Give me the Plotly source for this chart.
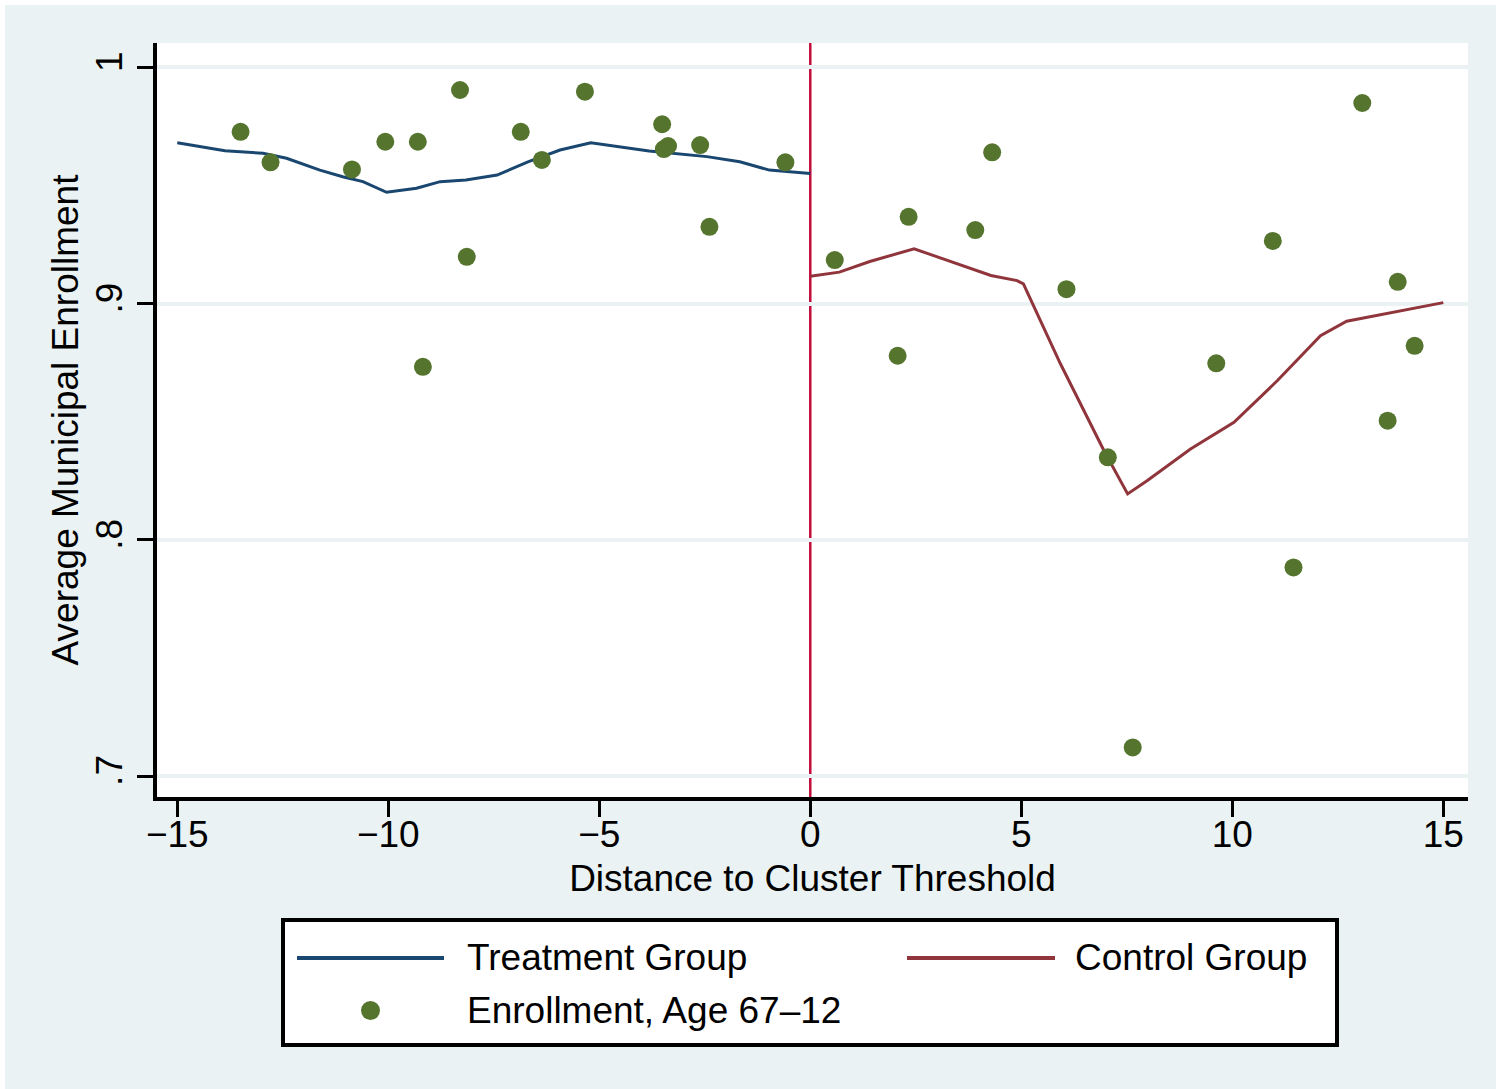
import plotly.graph_objects as go

# Local (lowess) fit on the treatment side of the threshold
treat_x = [-15.0, -13.87, -12.97, -12.41, -11.62, -11.08, -10.60, -10.04, -9.33, -8.77,
           -8.16, -7.42, -6.69, -5.93, -5.20, -4.56, -3.82, -2.45, -1.67, -0.97, 0.0]
treat_y = [0.9681, 0.9647, 0.9636, 0.9615, 0.9565, 0.9537, 0.9516, 0.9471, 0.9488, 0.9516,
           0.9523, 0.9544, 0.9600, 0.9650, 0.9681, 0.9664, 0.9646, 0.9622, 0.9600, 0.9565, 0.9551]

# Local (lowess) fit on the control side of the threshold
ctrl_x = [0.0, 0.69, 1.41, 2.08, 2.46, 2.84, 3.57, 4.28, 4.90, 5.05, 5.93,
          6.96, 7.52, 7.98, 9.01, 10.04, 11.07, 12.09, 12.71, 14.15, 15.0]
ctrl_y = [0.9116, 0.9133, 0.9178, 0.9213, 0.9232, 0.9208, 0.9164, 0.9119, 0.9097, 0.9083, 0.8744,
          0.8377, 0.8194, 0.8250, 0.8384, 0.8497, 0.8674, 0.8864, 0.8925, 0.8973, 0.9004]

# Binned average enrollment, ages 6-12
obs_x = [-13.50, -12.79, -10.86, -10.07, -9.30, -9.18, -8.30, -8.14, -6.86, -6.36, -5.34,
         -3.51, -3.47, -3.37, -2.61, -2.39, -0.59,
         0.58, 2.33, 2.07, 4.31, 3.91, 6.07, 7.05, 9.62, 10.96, 13.08, 13.92, 14.32, 13.68,
         11.45, 7.64]
obs_y = [0.9727, 0.9598, 0.9568, 0.9685, 0.9685, 0.8732, 0.9904, 0.9198, 0.9727, 0.9608, 0.9897,
         0.9759, 0.9654, 0.9667, 0.9671, 0.9325, 0.9598,
         0.9184, 0.9367, 0.8779, 0.9640, 0.9311, 0.9061, 0.8349, 0.8747, 0.9265, 0.9849, 0.9092,
         0.8821, 0.8504, 0.7883, 0.7121]

threshold = 0

x_ticks = [-15, -10, -5, 0, 5, 10, 15]
x_ticklabels = ["\u221215", "\u221210", "\u22125", "0", "5", "10", "15"]
y_ticks = [0.7, 0.8, 0.9, 1.0]
y_ticklabels = [".7", ".8", ".9", "1"]

legend_labels = ["Treatment Group", "Control Group", "Enrollment, Age 67\u201312"]
x_title = "Distance to Cluster Threshold"
y_title = "Average Municipal Enrollment"

W, H = 1496, 1089
ML, MR, MT, MB = 157, 28, 43, 292

BLUE = "#1a476f"
MAROON = "#90353b"
GREEN = "#55752f"
CUTOFF = "#c10d3c"
PANEL = "#eaf2f3"
FONT = "Liberation Sans, Arial, sans-serif"
FS = 37


def px_x(p):
    return (p - ML) / (W - ML - MR)


def px_y(p):
    return (H - MB - p) / (H - MT - MB)


fig = go.Figure()
fig.add_trace(go.Scatter(x=treat_x, y=treat_y, mode="lines",
                         line=dict(color=BLUE, width=3), name=legend_labels[0]))
fig.add_trace(go.Scatter(x=ctrl_x, y=ctrl_y, mode="lines",
                         line=dict(color=MAROON, width=3), name=legend_labels[1]))
fig.add_trace(go.Scatter(x=obs_x, y=obs_y, mode="markers",
                         marker=dict(color=GREEN, size=18, line=dict(width=0)),
                         name=legend_labels[2]))

shapes = [
    # thin white frame around the graph region
    dict(type="rect", xref="paper", yref="paper", x0=px_x(0), x1=px_x(W), y0=px_y(0), y1=px_y(5),
         fillcolor="white", line=dict(width=0), layer="below"),
    dict(type="rect", xref="paper", yref="paper", x0=px_x(0), x1=px_x(5), y0=px_y(H), y1=px_y(0),
         fillcolor="white", line=dict(width=0), layer="below"),
    # cutoff line
    dict(type="line", xref="x", yref="paper", x0=threshold, x1=threshold, y0=0, y1=1,
         line=dict(color=CUTOFF, width=2.5), layer="between"),
    # legend box
    dict(type="rect", xref="paper", yref="paper", x0=px_x(283), x1=px_x(1337),
         y0=px_y(1045), y1=px_y(920), fillcolor="white", line=dict(color="black", width=4)),
    dict(type="line", xref="paper", yref="paper", x0=px_x(297), x1=px_x(444),
         y0=px_y(958), y1=px_y(958), line=dict(color=BLUE, width=4)),
    dict(type="line", xref="paper", yref="paper", x0=px_x(907), x1=px_x(1055),
         y0=px_y(958), y1=px_y(958), line=dict(color=MAROON, width=4)),
    dict(type="circle", xref="paper", yref="paper", x0=px_x(361), x1=px_x(380),
         y0=px_y(1020), y1=px_y(1001), fillcolor=GREEN, line=dict(width=0)),
]

legend_font = dict(family=FONT, size=FS, color="black")
annotations = [
    dict(text=legend_labels[0], x=px_x(465), y=px_y(957), xref="paper", yref="paper",
         xanchor="left", yanchor="middle", showarrow=False, font=legend_font),
    dict(text=legend_labels[1], x=px_x(1073), y=px_y(957), xref="paper", yref="paper",
         xanchor="left", yanchor="middle", showarrow=False, font=legend_font),
    dict(text=legend_labels[2], x=px_x(465), y=px_y(1011), xref="paper", yref="paper",
         xanchor="left", yanchor="middle", showarrow=False, font=legend_font),
]

fig.update_layout(
    width=W, height=H,
    margin=dict(l=ML, r=MR, t=MT, b=MB),
    paper_bgcolor=PANEL,
    plot_bgcolor="white",
    showlegend=False,
    font=dict(family=FONT, size=FS, color="black"),
    shapes=shapes,
    annotations=annotations,
    xaxis=dict(
        range=[-15.48, 15.585],
        tickvals=x_ticks, ticktext=x_ticklabels,
        ticks="outside", ticklen=16, tickwidth=3, tickcolor="black",
        ticklabelstandoff=-14,
        showline=True, linecolor="black", linewidth=4,
        showgrid=False, zeroline=False,
        tickfont=dict(family=FONT, size=FS, color="black"),
        title=dict(text=x_title, font=dict(family=FONT, size=FS, color="black"), standoff=12),
    ),
    yaxis=dict(
        range=[0.69111, 1.0103],
        tickvals=y_ticks, ticktext=y_ticklabels,
        tickangle=-90,
        ticks="outside", ticklen=16, tickwidth=3, tickcolor="black",
        showline=True, linecolor="black", linewidth=4,
        showgrid=True, gridcolor=PANEL, gridwidth=3.5,
        zeroline=False,
        tickfont=dict(family=FONT, size=FS, color="black"),
        title=dict(text=y_title, font=dict(family=FONT, size=FS, color="black"), standoff=0),
    ),
)

fig.write_html("out.html")
